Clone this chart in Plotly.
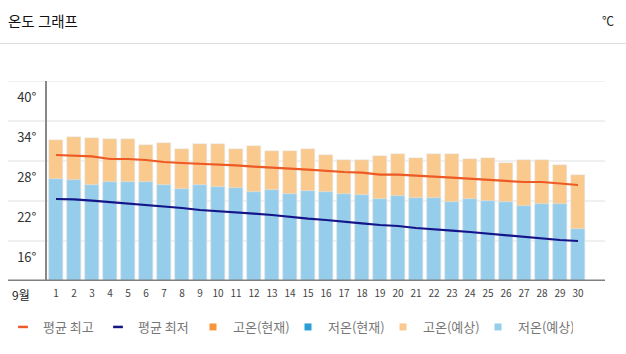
import plotly.graph_objects as go

days = list(range(1, 31))
day_labels = [str(d) for d in days]

high_forecast = [31.1, 31.55, 31.4, 31.25, 31.25, 30.35, 30.65, 29.75, 30.5, 30.5,
                 29.75, 30.2, 29.45, 29.45, 29.75, 28.85, 28.1, 28.1, 28.7, 29.0,
                 28.4, 29.0, 29.0, 28.25, 28.4, 27.65, 28.1, 28.1, 27.35, 25.85]
low_forecast = [25.3, 25.1, 24.35, 24.8, 24.8, 24.8, 24.35, 23.75, 24.35, 24.05,
                23.9, 23.3, 23.6, 23.0, 23.45, 23.3, 23.0, 22.85, 22.25, 22.7,
                22.4, 22.4, 21.85, 22.25, 21.95, 21.8, 21.2, 21.5, 21.5, 17.75]
avg_high = [28.9, 28.85, 28.7, 28.3, 28.3, 28.15, 27.85, 27.7, 27.6, 27.45,
            27.35, 27.15, 27.05, 26.85, 26.7, 26.5, 26.35, 26.25, 25.95, 25.95,
            25.75, 25.65, 25.5, 25.35, 25.2, 25.05, 24.85, 24.85, 24.6, 24.4]
avg_low = [22.3, 22.25, 22.05, 21.85, 21.6, 21.35, 21.2, 20.95, 20.65, 20.5,
           20.35, 20.1, 19.9, 19.6, 19.35, 19.15, 18.85, 18.65, 18.4, 18.25,
           17.95, 17.8, 17.55, 17.35, 17.1, 16.9, 16.6, 16.35, 16.15, 16.0]

y_tick_vals = [37.6, 31.6, 25.6, 19.6, 13.6]
y_tick_text = ["40°", "34°", "28°", "22°", "16°"]
grid_vals = [16, 22, 28, 34, 40]

C_HIGH_LINE = "#EE5A24"
C_LOW_LINE = "#15158A"
C_HIGH_NOW = "#F7963C"
C_LOW_NOW = "#2A9FD6"
C_HIGH_FC = "#FAC98E"
C_LOW_FC = "#95CDEB"

FONT = "Noto Sans CJK KR"
W, H = 626, 354
L, R, T, B = 47, 21, 81, 73
PW = W - L - R
PH = H - T - B


def px_x(x):
    return (x - L) / PW


def px_y(y):
    return (H - B - y) / PH


fig = go.Figure()

fig.add_trace(go.Bar(x=days, y=high_forecast, marker_color=C_HIGH_FC, width=0.76,
                     showlegend=False, name="고온(예상)", hoverinfo="skip"))
fig.add_trace(go.Bar(x=days, y=low_forecast, marker_color=C_LOW_FC, width=0.76,
                     showlegend=False, name="저온(예상)", hoverinfo="skip"))
fig.add_trace(go.Scatter(x=days, y=avg_high, mode="lines", line=dict(color=C_HIGH_LINE, width=2.2),
                         showlegend=False, name="평균 최고"))
fig.add_trace(go.Scatter(x=days, y=avg_low, mode="lines", line=dict(color=C_LOW_LINE, width=2.2),
                         showlegend=False, name="평균 최저"))

# legend entries
legend_items = [
    ("평균 최고", "line-ew", C_HIGH_LINE),
    ("평균 최저", "line-ew", C_LOW_LINE),
    ("고온(현재)", "square", C_HIGH_NOW),
    ("저온(현재)", "square", C_LOW_NOW),
    ("고온(예상)", "square", C_HIGH_FC),
    ("저온(예상)", "square", C_LOW_FC),
]
for name, sym, col in legend_items:
    if sym == "line-ew":
        mk = dict(symbol=sym, size=7, line=dict(width=2.5, color=col), color=col)
    else:
        mk = dict(symbol=sym, size=7, color=col, line=dict(width=0))
    fig.add_trace(go.Scatter(x=[None], y=[None], mode="markers", marker=mk, name=name))

shapes = []
for g in grid_vals:
    shapes.append(dict(type="line", xref="paper", yref="y", x0=px_x(8), x1=1, y0=g, y1=g,
                       line=dict(color="#EBEBEB", width=1.5), layer="below"))
shapes.append(dict(type="line", xref="paper", yref="y", x0=px_x(8), x1=1, y0=10, y1=10,
                   line=dict(color="#808080", width=3), layer="above"))
shapes.append(dict(type="line", xref="paper", yref="paper", x0=px_x(0), x1=px_x(626),
                   y0=px_y(43.5), y1=px_y(43.5), line=dict(color="#DDDDDD", width=1)))

annotations = [
    dict(text="온도 그래프", xref="paper", yref="paper", x=px_x(6), y=px_y(20),
         xanchor="left", yanchor="middle", showarrow=False,
         font=dict(family=FONT, size=14.5, color="#111111")),
    dict(text="℃", xref="paper", yref="paper", x=px_x(608), y=px_y(20),
         xanchor="center", yanchor="middle", showarrow=False,
         font=dict(family=FONT, size=12, color="#222222")),
    dict(text="9월", xref="paper", yref="paper", x=px_x(21), y=px_y(294),
         xanchor="center", yanchor="middle", showarrow=False,
         font=dict(family=FONT, size=12, color="#222222")),
]

fig.update_layout(
    width=W, height=H,
    margin=dict(l=L, r=R, t=T, b=B, autoexpand=False),
    paper_bgcolor="white", plot_bgcolor="white",
    barmode="overlay", bargap=0,
    font=dict(family=FONT),
    shapes=shapes, annotations=annotations,
    xaxis=dict(range=[0.5, 31.5], tickmode="array", tickvals=days, ticktext=day_labels,
               showgrid=False, zeroline=False, showline=False, ticks="",
               tickfont=dict(family=FONT, size=10, color="#444444"), ticklabelstandoff=5,
               fixedrange=True),
    yaxis=dict(range=[10, 40], tickmode="array", tickvals=y_tick_vals, ticktext=y_tick_text,
               showgrid=False, zeroline=False, showline=True, linecolor="#888888", linewidth=2,
               ticks="", tickfont=dict(family=FONT, size=13, color="#333333"),
               ticklabelstandoff=6, fixedrange=True),
    legend=dict(orientation="h", x=px_x(3), xanchor="left", y=px_y(327), yanchor="middle",
                font=dict(family=FONT, size=13, color="#777777"),
                entrywidth=50, entrywidthmode="pixels", itemwidth=30,
                bgcolor="rgba(0,0,0,0)"),
    showlegend=True,
)

fig.write_html("out.html")
